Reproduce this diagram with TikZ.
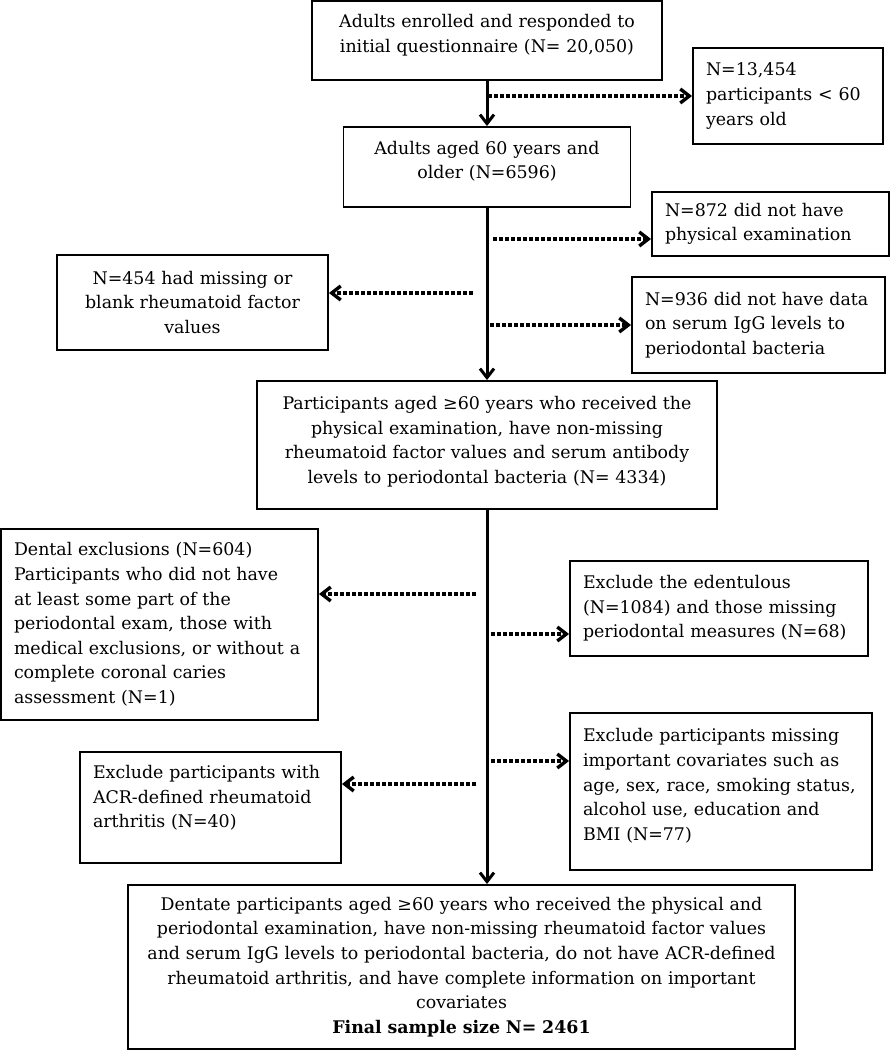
\documentclass[tikz,border=0pt]{standalone}
\usepackage{fontspec}
\setmainfont{DejaVu Serif}
\usepackage{tikz}
\usetikzlibrary{arrows.meta,positioning}
\newcommand{\pushup}[1]{\rule[-#1]{0pt}{0pt}}

\begin{document}
\begin{tikzpicture}[x=1pt, y=-1pt, >={Straight Barb[length=9pt,width=14pt]}]
\tikzstyle{every node}=[font=\fontsize{17.4pt}{24.6pt}\selectfont]
\tikzstyle{box}=[draw, line width=1.9pt, inner xsep=13pt, inner ysep=0pt, align=left]
\tikzstyle{cbox}=[box, align=center]
\tikzstyle{mainline}=[line width=3pt]
\tikzstyle{dotline}=[line width=3.4pt, dash pattern=on 4pt off 2pt]
\useasboundingbox (0,0) rectangle (891,1050);

% main column
\node[cbox, minimum width=350pt, minimum height=79pt, text width=324pt] (n20050) at (487,40.5)
  {Adults enrolled and responded to\\initial questionnaire (N= 20,050)\pushup{14pt}};
\node[cbox, minimum width=287pt, minimum height=80pt, text width=261pt] (n6596) at (487,167)
  {Adults aged 60 years and\\older (N=6596)\pushup{14pt}};
\node[cbox, minimum width=460pt, minimum height=128pt, text width=434pt] (n4334) at (487,445)
  {Participants aged ≥60 years who received the\\physical examination, have non-missing\\rheumatoid factor values and serum antibody\\levels to periodontal bacteria (N= 4334)\pushup{10pt}};
\node[cbox, minimum width=667pt, minimum height=164pt, text width=641pt] (nfinal) at (461.5,967)
  {Dentate participants aged ≥60 years who received the physical and\\periodontal examination, have non-missing rheumatoid factor values\\and serum IgG levels to periodontal bacteria, do not have ACR-defined\\rheumatoid arthritis, and have complete information on important\\covariates\\\textbf{Final sample size N= 2461}};

% exclusions
\node[box, minimum width=190pt, minimum height=96pt, text width=164pt] (n13454) at (788,96)
  {N=13,454\\participants < 60\\years old};
\node[box, minimum width=237pt, minimum height=64pt, text width=211pt] (n872) at (770.5,224)
  {N=872 did not have\\physical examination};
\node[cbox, minimum width=271pt, minimum height=95pt, text width=245pt] (n454) at (192.5,302.5)
  {N=454 had missing or\\blank rheumatoid factor\\values};
\node[box, minimum width=253pt, minimum height=96pt, text width=227pt] (n936) at (758.5,325)
  {N=936 did not have data\\on serum IgG levels to\\periodontal bacteria};
\node[box, minimum width=317pt, minimum height=191pt, text width=291pt] (ndental) at (159.5,624.5)
  {Dental exclusions (N=604)\\Participants who did not have\\at least some part of the\\periodontal exam, those with\\medical exclusions, or without a\\complete coronal caries\\assessment (N=1)};
\node[box, minimum width=298pt, minimum height=95pt, text width=272pt] (nedent) at (719,608.5)
  {Exclude the edentulous\\(N=1084) and those missing\\periodontal measures (N=68)};
\node[box, minimum width=302pt, minimum height=157pt, text width=276pt] (ncov) at (721,791.5)
  {Exclude participants missing\\important covariates such as\\age, sex, race, smoking status,\\alcohol use, education and\\BMI (N=77)\pushup{14pt}};
\node[box, minimum width=261pt, minimum height=111pt, text width=235pt] (nacr) at (210.5,807.5)
  {Exclude participants with\\ACR-defined rheumatoid\\arthritis (N=40)\pushup{22pt}};

\coordinate (c1) at (488,96);
\coordinate (c2) at (493,239);
\coordinate (c3) at (473,293);
\coordinate (c4) at (490,325);
\coordinate (c5) at (476,594);
\coordinate (c6) at (491,634);
\coordinate (c7) at (491,761);
\coordinate (c8) at (476,784);

\path[mainline,->] (n20050) edge node {} (n6596);
\path[mainline,->] (n6596) edge node {} (n4334);
\path[mainline,->] (n4334.south) edge node {} (n4334.south |- nfinal.north);

\path[dotline,->] (c1) edge (c1 -| n13454.west);
\path[dotline,->] (c2) edge (c2 -| n872.west);
\path[dotline,->] (c3) edge (c3 -| n454.east);
\path[dotline,->] (c4) edge (c4 -| n936.west);
\path[dotline,->] (c5) edge (c5 -| ndental.east);
\path[dotline,->] (c6) edge (c6 -| nedent.west);
\path[dotline,->] (c7) edge (c7 -| ncov.west);
\path[dotline,->] (c8) edge (c8 -| nacr.east);
\end{tikzpicture}
\end{document}
